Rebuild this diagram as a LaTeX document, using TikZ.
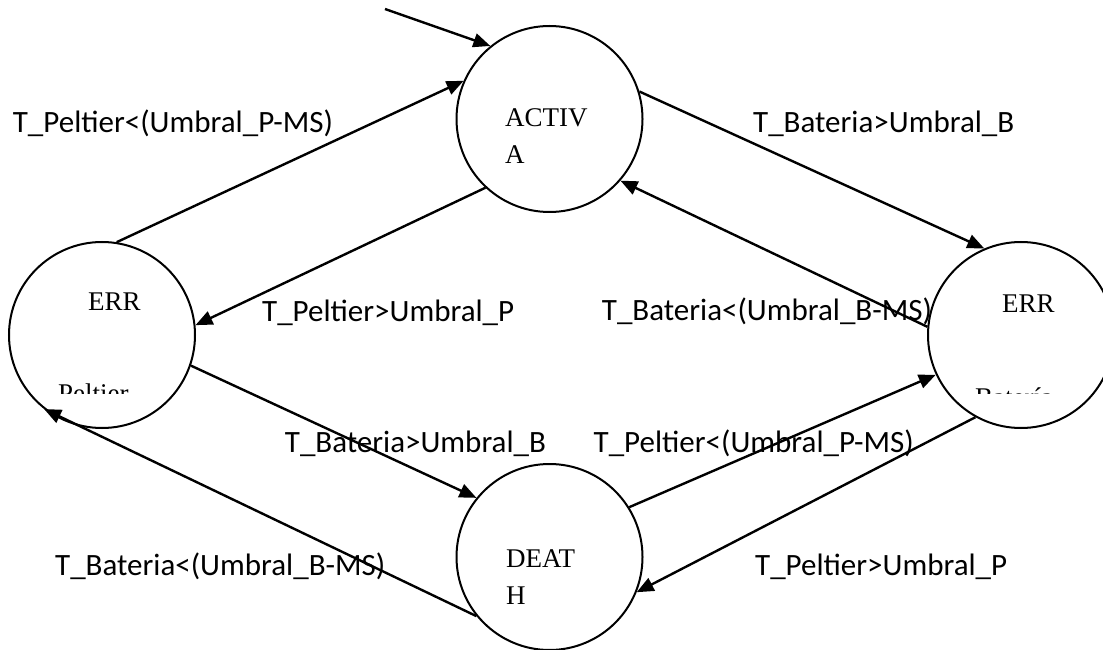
\documentclass[tikz,border=0pt]{standalone}
\usepackage{fontspec}
\setmainfont{Liberation Serif}
\newfontfamily\labelfont{Carlito}
\usetikzlibrary{arrows.meta, positioning}
\tikzstyle{state} = [circle, minimum size=186pt, inner sep=0pt, draw=black, line width=2pt]
\tikzstyle{statetext} = [inner sep=0pt, align=left, font=\fontsize{27}{37}\selectfont]
\tikzstyle{cond} = [inner sep=0pt, anchor=base west, font=\labelfont\fontsize{31}{36}\selectfont]
\tikzstyle{arrow} = [line width=2.4pt,->,>={Triangle[length=17pt,width=14pt]}]

\begin{document}
\begin{tikzpicture}[x=1pt, y=1pt, node distance=216pt]
\useasboundingbox (0,0) rectangle (1103,649);
\node (activa) [state] at (549.5,530) {};
\node (errp) [state, below of = activa, xshift = -447.5pt] {};
\node (errb) [state, below of = activa, xshift = 471.5pt] {};
\node (death) [state, below of = activa, yshift = -222pt] {};
\coordinate (init) at (385,640);
% texto de los estados
\node (activatxt) [statetext, anchor=north west] at ([xshift=-44.5pt, yshift=11pt]activa.center) {ACTIV\\A};
\node (deathtxt) [statetext, anchor=north west] at ([xshift=-43.5pt, yshift=8pt]death.center) {DEAT\\H};
\node (errptxt) [statetext, anchor=north west] at ([xshift=-14pt, yshift=42pt]errp.center) {ERR};
\node (errbtxt) [statetext, anchor=north west] at ([xshift=-19pt, yshift=40pt]errb.center) {ERR};
\begin{scope}
\clip ([xshift=-93pt, yshift=-58pt]errp.center) rectangle ([xshift=93pt, yshift=0pt]errp.center);
\node (errptxtb) [statetext, anchor=north west] at ([xshift=-44pt, yshift=-49pt]errp.center) {Peltier};
\end{scope}
\begin{scope}
\clip ([xshift=-93pt, yshift=-58pt]errb.center) rectangle ([xshift=93pt, yshift=0pt]errb.center);
\node (errbtxtb) [statetext, anchor=north west] at ([xshift=-46pt, yshift=-53pt]errb.center) {Batería};
\end{scope}
% condiciones
\node (c1) [cond] at (12.7,516) {T\_Peltier<(Umbral\_P-MS)};
\node (c2) [cond] at (753,516) {T\_Bateria>Umbral\_B};
\node (c3) [cond] at (262,328) {T\_Peltier>Umbral\_P};
\node (c4) [cond] at (601.7,329) {T\_Bateria<(Umbral\_B-MS)};
\node (c5) [cond] at (284.7,197) {T\_Bateria>Umbral\_B};
\node (c6) [cond] at (593.5,197) {T\_Peltier<(Umbral\_P-MS)};
\node (c7) [cond] at (55,74) {T\_Bateria<(Umbral\_B-MS)};
\node (c8) [cond] at (755,74) {T\_Peltier>Umbral\_P};
% transiciones
\draw [arrow] (init) -- (activa.129);
\draw [arrow] (errp.81.6) -- (activa.156.6);
\draw [arrow] (activa.227) -- (errp.6);
\draw [arrow] (activa.17.8) -- (errb.113);
\draw [arrow] (errb.175) -- (activa.319.5);
\draw [arrow] (errp.-19) -- (death.141);
\draw [arrow] (death.219.7) -- (errp.232);
\draw [arrow] (death.32) -- (errb.205.6);
\draw [arrow] (errb.241.8) -- (death.338.7);
\end{tikzpicture}
\end{document}
